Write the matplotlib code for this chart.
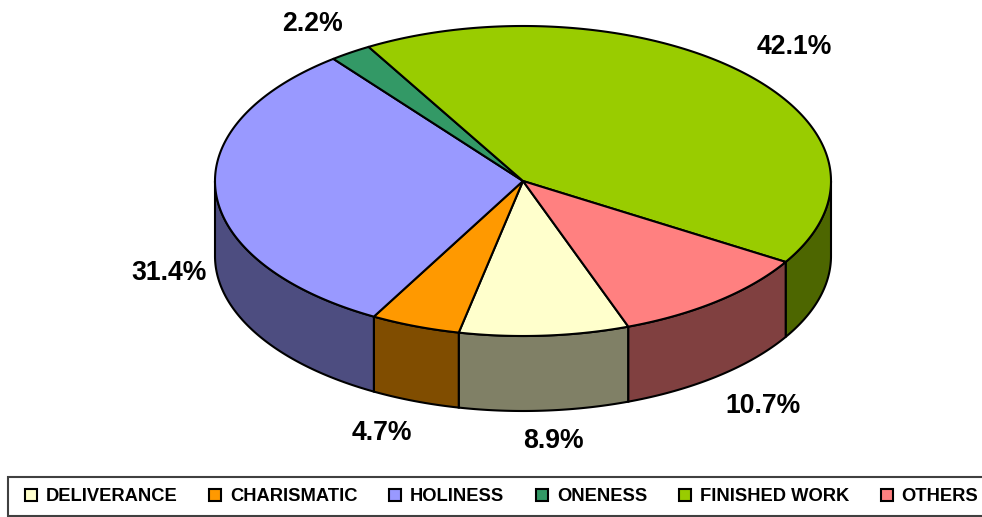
import numpy as np
import matplotlib
matplotlib.use("Agg")
import matplotlib.pyplot as plt
from matplotlib.patches import Patch, Rectangle

plt.rcParams['font.family'] = ['Liberation Sans', 'DejaVu Sans']

names = ["DELIVERANCE", "CHARISMATIC", "HOLINESS", "ONENESS", "FINISHED WORK", "OTHERS"]
shares = [8.9, 4.7, 31.4, 2.2, 42.1, 10.7]
top_colors = ["#FFFFCC", "#FF9900", "#9999FF", "#339966", "#99CC00", "#FF8080"]
side_colors = ["#808066", "#804D00", "#4D4D80", "#1A4D33", "#4D6600", "#804040"]
label_text = ["8.9%", "4.7%", "31.4%", "2.2%", "42.1%", "10.7%"]
label_x = [553, 382, 169, 313, 794, 763]
label_y = [441, 433, 273, 24, 47, 406]

cx, cy = 523, 181
rx, ry = 308, 155
depth = 75
start = 70  # degrees, screen coords (y down), clockwise on screen


def rim(a, b):
    t = np.radians(np.linspace(a, b, max(int(abs(b - a) * 2), 2)))
    return cx + rx * np.cos(t), cy + ry * np.sin(t)


fig = plt.figure(figsize=(9.82, 5.17), dpi=100)
ax = fig.add_axes([0, 0, 1, 1])
ax.set_xlim(0, 982)
ax.set_ylim(517, 0)
ax.axis("off")

edges = start + np.cumsum([0] + shares) * 3.6

# side walls first, only the part of each slice facing the viewer
for i in range(len(shares)):
    for turn in (0, 360):
        a = max(edges[i] - turn, 0)
        b = min(edges[i + 1] - turn, 180)
        if b <= a:
            continue
        x, y = rim(a, b)
        ax.fill(np.r_[x, x[::-1]], np.r_[y, y[::-1] + depth],
                facecolor=side_colors[i], edgecolor="black", linewidth=1.5, zorder=2)

# top faces
for i in range(len(shares)):
    x, y = rim(edges[i], edges[i + 1])
    ax.fill(np.r_[cx, x], np.r_[cy, y],
            facecolor=top_colors[i], edgecolor="black", linewidth=1.5,
            joinstyle="round", zorder=3)

for t, x, y in zip(label_text, label_x, label_y):
    ax.text(x, y, t, ha="center", va="center", fontsize=19.2, fontweight="bold", color="black")

# box is drawn apart from the legend, it runs off the right edge
ax.add_patch(Rectangle((8, 477), 980, 39, facecolor="white", edgecolor="#404040",
                       linewidth=1.5, zorder=1))

handles = [Patch(facecolor=c, edgecolor="black", linewidth=1.5) for c in top_colors]
leg = ax.legend(handles, names, ncol=6, loc="center left",
                bbox_to_anchor=(25 / 982, 1 - 496.5 / 517), borderaxespad=0, borderpad=0,
                prop={"size": 13.2, "weight": "bold"}, frameon=False,
                handlelength=0.63, handleheight=0.63, handletextpad=0.49,
                columnspacing=1.75)

fig.savefig("out.png", dpi=100, facecolor="white")
